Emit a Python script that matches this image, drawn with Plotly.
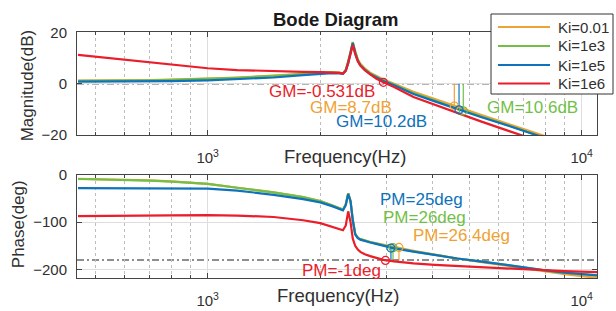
import plotly.graph_objects as go

# ---------------- data ----------------
labels = ["Ki=0.01", "Ki=1e3", "Ki=1e5", "Ki=1e6"]
colors = ["#EFA234", "#72BF48", "#0F72BA", "#EA1D2A"]

freq = [450, 500, 600, 700, 800, 1000, 1200, 1500, 1800, 2000, 2150, 2250, 2300,
        2340, 2375, 2410, 2443, 2480, 2520, 2560, 2630, 2720, 2820, 2950, 3150,
        3550, 4050, 4650, 5350, 6400, 7800, 9000, 11000]

mag_ki001 = [1.2, 1.2, 1.3, 1.4, 1.6, 1.9, 2.4, 3.1, 3.8, 4.2, 4.5, 4.3, 4.0,
             5.5, 8.5, 12.5, 16.2, 12.5, 9.5, 7.7, 6.0, 4.3, 3.0, 1.6, 0.0,
             -3.2, -6.0, -9.1, -12.0, -15.8, -20.0, -23.0, -27.2]
mag_ki1e3 = [1.1, 1.1, 1.2, 1.3, 1.5, 1.8, 2.3, 3.0, 3.7, 4.1, 4.4, 4.2, 3.9,
             5.3, 8.3, 12.2, 16.0, 12.2, 9.2, 7.4, 5.7, 4.0, 2.7, 1.3, -0.3,
             -3.7, -6.6, -9.8, -12.6, -16.4, -20.6, -23.6, -27.8]
mag_ki1e5 = [0.8, 0.8, 0.85, 0.9, 1.0, 1.3, 1.7, 2.4, 3.3, 3.8, 4.1, 4.0, 3.8,
             5.1, 8.0, 12.0, 15.8, 11.9, 8.9, 7.1, 5.4, 3.7, 2.4, 1.0, -0.6,
             -4.0, -6.9, -10.0, -12.9, -16.5, -20.5, -23.7, -28.0]
mag_ki1e6 = [11.2, 10.5, 9.2, 8.2, 7.3, 6.0, 5.3, 4.8, 4.6, 4.5, 4.4, 4.2, 3.9,
             5.0, 8.0, 11.5, 15.0, 11.5, 8.7, 7.0, 5.2, 3.6, 2.0, 0.5, -1.3,
             -5.2, -8.3, -11.6, -14.6, -18.5, -22.8, -25.8, -30.0]

ph_ki001 = [-8, -8.5, -9.5, -11.5, -13.5, -19, -27, -37, -47, -55, -64, -71, -73,
            -62, -39, -55, -95, -125, -133, -136, -139, -142, -145, -148.5, -152.5,
            -160.5, -169, -177, -184, -193, -203, -210, -218]
ph_ki1e3 = [-8.5, -9, -10, -12, -14, -19, -27, -37, -47, -55, -64, -71, -73,
            -62, -39, -55, -95, -125, -133, -136, -139, -142, -145, -149, -154.2,
            -162, -170, -177, -183, -192, -201, -207, -213]
ph_ki1e5 = [-28, -28, -28, -28, -28, -29, -33, -42, -51, -58, -66, -73, -75,
            -64, -40, -56, -96, -126, -134, -137, -140, -143, -146, -150, -155.5,
            -162.5, -170, -177, -183, -192, -201, -207, -213]
ph_ki1e6 = [-87, -87, -86, -86, -85.5, -85, -86, -89, -96, -102, -109, -115, -117,
            -107, -77, -100, -135, -150, -158, -163, -168, -172, -176, -180, -183,
            -187.5, -190.5, -193, -195.5, -198.5, -202, -204, -206]

mags = [mag_ki001, mag_ki1e3, mag_ki1e5, mag_ki1e6]
phases = [ph_ki001, ph_ki1e3, ph_ki1e5, ph_ki1e6]

# gain / phase margin markers (order: Ki=0.01, 1e3, 1e5, 1e6)
gm_freq = [4565, 4824, 4700, 2950]
gm_db = [-8.7, -10.6, -10.2, 0.531]
gm_text = ["GM=8.7dB", "GM=10.6dB", "GM=10.2dB", "GM=-0.531dB"]
pm_freq = [3247, 3130, 3090, 2988]
pm_deg = [-153.6, -154, -155, -181]
pm_text = ["PM=26.4deg", "PM=26deg", "PM=25deg", "PM=-1deg"]

mag_ticks = [-20, 0, 20]
phase_ticks = [-200, -100, 0]
major_f = [1000, 10000]
major_f_text = ["10<sup>3</sup>", "10<sup>4</sup>"]
minor_f = [500, 600, 700, 800, 900, 2000, 3000, 4000, 5000, 6000, 7000, 8000, 9000]

# ---------------- figure ----------------
W, H = 616, 311
FONT = "Liberation Sans, Arial, Helvetica, sans-serif"
TXT = "#303030"
fig = go.Figure()

# stems and circles
for i in range(4):
    fig.add_trace(go.Scatter(x=[gm_freq[i], gm_freq[i]], y=[0, gm_db[i]], mode="lines",
                             line=dict(color=colors[i], width=1.2), showlegend=False,
                             hoverinfo="skip", xaxis="x", yaxis="y"))
    fig.add_trace(go.Scatter(x=[pm_freq[i], pm_freq[i]], y=[-180, pm_deg[i]], mode="lines",
                             line=dict(color=colors[i], width=1.2), showlegend=False,
                             hoverinfo="skip", xaxis="x2", yaxis="y2"))

for i in range(4):
    fig.add_trace(go.Scatter(x=freq, y=mags[i], mode="lines", name=labels[i],
                             line=dict(color=colors[i], width=2.2), showlegend=False,
                             xaxis="x", yaxis="y"))
for i in range(4):
    fig.add_trace(go.Scatter(x=freq, y=phases[i], mode="lines", name=labels[i],
                             line=dict(color=colors[i], width=2.2), showlegend=False,
                             xaxis="x2", yaxis="y2"))

for i in range(4):
    fig.add_trace(go.Scatter(x=[gm_freq[i]], y=[gm_db[i]], mode="markers",
                             marker=dict(symbol="circle-open", size=8, color=colors[i],
                                         line=dict(width=1.2)),
                             showlegend=False, xaxis="x", yaxis="y"))
    fig.add_trace(go.Scatter(x=[pm_freq[i]], y=[pm_deg[i]], mode="markers",
                             marker=dict(symbol="circle-open", size=8, color=colors[i],
                                         line=dict(width=1.2)),
                             showlegend=False, xaxis="x2", yaxis="y2"))

# reference dash-dot lines
fig.add_shape(type="line", xref="x domain", yref="y", x0=0, x1=1, y0=0, y1=0,
              line=dict(color="#6a6a6a", width=1.5, dash="7px,3px,2px,3px"), layer="below")
fig.add_shape(type="line", xref="x2 domain", yref="y2", x0=0, x1=1, y0=-180, y1=-180,
              line=dict(color="#6a6a6a", width=1.5, dash="7px,3px,2px,3px"), layer="below")

xcommon = dict(type="log", range=[2.6505, 4.041], domain=[77 / W, 597 / W],
               tickvals=major_f, ticktext=major_f_text, ticks="inside", ticklen=5,
               tickcolor="#444", showline=True, linecolor="#444", linewidth=1,
               mirror="allticks", showgrid=True, gridcolor="#dedede", gridwidth=1,
               tickfont=dict(size=15, color=TXT, family=FONT), zeroline=False,
               ticklabelstandoff=9, automargin=False,
               minor=dict(tickvals=minor_f, ticks="inside", ticklen=3, tickcolor="#444",
                          showgrid=True, gridcolor="#bdbdbd", griddash="dot", gridwidth=1))
ycommon = dict(ticks="inside", ticklen=5, tickcolor="#444", showline=True,
               linecolor="#444", linewidth=1, mirror="allticks", showgrid=True,
               gridcolor="#dedede", gridwidth=1, zeroline=False, automargin=False,
               tickfont=dict(size=15, color=TXT, family=FONT), ticklabelstandoff=6)

fig.update_layout(
    width=W, height=H, margin=dict(l=0, r=0, t=0, b=0, pad=0, autoexpand=False),
    paper_bgcolor="white", plot_bgcolor="white",
    font=dict(family=FONT, color=TXT),
    xaxis=dict(anchor="y", **xcommon),
    yaxis=dict(anchor="x", domain=[1 - 135 / H, 1 - 32.3 / H], range=[-20, 20],
               tickvals=mag_ticks, **ycommon),
    xaxis2=dict(anchor="y2", **xcommon),
    yaxis2=dict(anchor="x2", domain=[1 - 278.3 / H, 1 - 175 / H], range=[-219, 0],
                tickvals=phase_ticks, **ycommon),
    showlegend=False,
)

def px_ann(text, cx, cy, color=TXT, size=17, angle=0, anchor="center"):
    fig.add_annotation(text=text, x=cx / W, y=1 - cy / H, xref="paper", yref="paper",
                       showarrow=False, xanchor=anchor, yanchor="middle",
                       textangle=angle, font=dict(size=size, color=color, family=FONT))

# legend box (drawn in the upper-right corner, like the reference)
fig.add_shape(type="rect", xref="paper", yref="paper", x0=491 / W, x1=613 / W,
              y0=1 - 94 / H, y1=1 - 14 / H, line=dict(color="#333", width=1),
              fillcolor="white", layer="above")
leg_rows = [27, 46, 65, 83.5]
for i in range(4):
    fig.add_shape(type="line", xref="paper", yref="paper", x0=498 / W, x1=550 / W,
                  y0=1 - leg_rows[i] / H, y1=1 - leg_rows[i] / H,
                  line=dict(color=colors[i], width=2.2), layer="above")
    px_ann(labels[i], 555.5, leg_rows[i], size=15, anchor="left")

px_ann("<b>Bode Diagram</b>", 335.5, 19, size=18.5, color="#1a1a1a")
px_ann("Magnitude(dB)", 27.5, 85.8, angle=-90)
px_ann("Phase(deg)", 18.5, 224.7, angle=-90)
px_ann("Frequency(Hz)", 345.3, 156, size=18.5)
px_ann("Frequency(Hz)", 338.3, 295, size=18.5)

gm_pos = [(351.3, 107), (532.3, 107), (381, 121), (322, 92)]
pm_pos = [(461.8, 235), (424.2, 217), (421, 199), (341.5, 270)]
for i in range(4):
    px_ann(gm_text[i], gm_pos[i][0], gm_pos[i][1], color=colors[i])
    px_ann(pm_text[i], pm_pos[i][0], pm_pos[i][1], color=colors[i])

fig.write_html("out.html", config={"responsive": False, "displayModeBar": False},
               post_script="document.body.style.margin='0';document.body.style.overflow='hidden';")
